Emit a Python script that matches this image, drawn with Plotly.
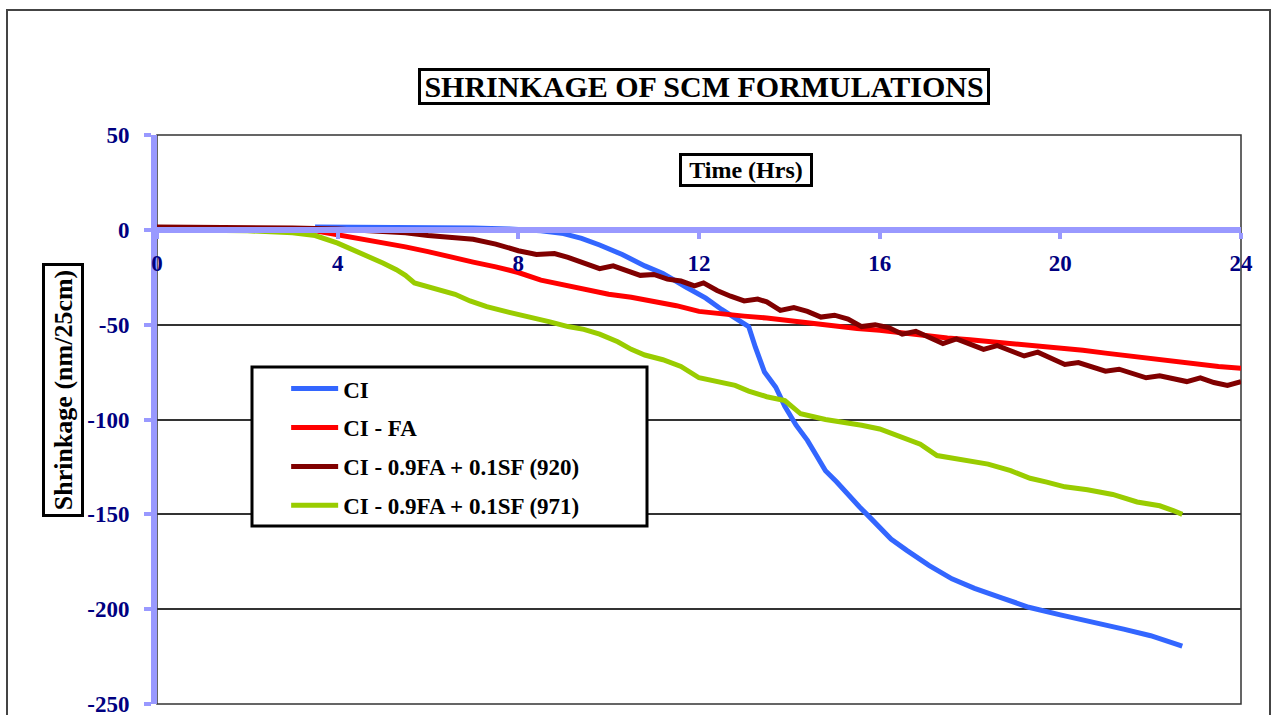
import plotly.graph_objects as go

# ---------------- data ----------------
ci_t = [3.5, 5.0, 6.0, 7.0, 7.8, 8.5, 9.0, 9.4, 9.8, 10.3, 10.8, 11.2, 11.7, 12.15, 12.5, 12.9,
        13.1, 13.25, 13.45, 13.7, 13.9, 14.15, 14.4, 14.6, 14.8, 15.05, 15.3, 15.55, 15.8, 16.0,
        16.25, 16.6, 17.1, 17.6, 18.1, 18.7, 19.3, 20.0, 20.8, 21.4, 22.0, 22.4, 22.7]
ci_v = [1.5, 1.5, 1.2, 1.0, 0.5, -0.5, -2, -4.5, -8, -13, -19, -23, -30, -36, -42, -48,
        -51, -62, -75, -83, -93, -103, -111, -119, -127, -133, -140, -146, -152, -157,
        -163, -169, -177, -184, -189, -194, -199, -203, -207, -210.5, -214, -217, -219.5]

fa_t = [0, 1, 2, 3, 3.5, 4.0, 4.5, 5.0, 5.5, 6.0, 6.5, 7.0, 7.5, 8.0, 8.5, 9.0, 9.5, 10.0,
        10.5, 11.0, 11.5, 12.0, 12.5, 13.0, 13.5, 14.0, 14.5, 15.0, 15.5, 16.0, 16.5, 17.0,
        17.5, 18.0, 18.5, 19.0, 19.5, 20.0, 20.5, 21.0, 21.5, 22.0, 22.5, 23.0, 23.5, 24.0]
fa_v = [0.5, 0.5, 0.3, 0, -0.5, -2.5, -5, -7, -9, -11.5, -14.5, -17, -19.5, -22.5, -26.5, -29,
        -31, -34, -35.5, -37.5, -40, -43, -44.5, -45.5, -46.5, -48, -49, -50.5, -52, -53, -54.5,
        -56, -57, -58, -59, -60, -61.5, -62.5, -63.5, -65, -66.5, -68, -69.5, -71, -72, -73]

sf920_t = [0, 1, 2, 3, 4, 5, 5.5, 6, 6.5, 7, 7.5, 8.0, 8.4, 8.8, 9.1, 9.5, 9.8, 10.1, 10.4,
           10.7, 11.0, 11.3, 11.6, 11.9, 12.1, 12.4, 12.7, 13.0, 13.3, 13.5, 13.8, 14.1, 14.4,
           14.7, 15.0, 15.3, 15.6, 15.9, 16.2, 16.5, 16.8, 17.1, 17.4, 17.7, 18.0, 18.3, 18.6,
           18.9, 19.2, 19.5, 19.8, 20.1, 20.4, 20.7, 21.0, 21.3, 21.6, 21.9, 22.2, 22.5, 22.8,
           23.1, 23.4, 23.7, 24.0]
sf920_v = [1.5, 1.5, 1.2, 1, 0.5, -0.5, -1.5, -3, -4, -5, -7.5, -11, -13, -12.5, -14.5, -18,
           -20.5, -19, -21.5, -24, -23.5, -26, -27, -29.5, -28, -32, -35, -37.5, -36.5, -38,
           -42.5, -41, -43, -46, -45, -47, -51, -50, -51.5, -55, -53.5, -57, -60, -57.5, -60.5,
           -63, -61, -64, -66.5, -64.5, -67.5, -71, -70, -72.5, -74.5, -73.5, -75.5, -78, -77,
           -78.5, -80, -78, -80.5, -82, -80]

sf971_t = [0, 1, 2, 3, 3.5, 4.0, 4.3, 4.65, 5.0, 5.3, 5.5, 5.7, 6.0, 6.33, 6.6, 6.93, 7.3, 7.8,
           8.3, 8.7, 9.1, 9.45, 9.8, 10.2, 10.5, 10.8, 11.2, 11.6, 12.0, 12.4, 12.8, 13.1, 13.5,
           13.9, 14.25, 14.8, 15.3, 15.6, 16.0, 16.47, 16.9, 17.27, 17.8, 18.4, 18.9, 19.33,
           19.7, 20.1, 20.6, 21.16, 21.7, 22.2, 22.5, 22.7]
sf971_v = [0, 0, -0.5, -1.5, -3, -7, -10, -14, -17.5, -21, -24, -28, -30, -32, -34, -37.5, -40.5,
           -43.5, -46, -48.5, -51, -52.5, -55, -59, -63, -66, -68.5, -72, -78, -80, -82, -85,
           -88, -90, -97, -100, -101.5, -103, -105, -109, -113, -119, -121, -123.5, -127, -131,
           -133, -135.5, -137, -139.5, -143.5, -145.5, -148, -150]

series_names = ["CI", "CI - FA", "CI - 0.9FA + 0.1SF (920)", "CI - 0.9FA + 0.1SF (971)"]
series_colors = ["#3366FF", "#FF0000", "#800000", "#99CC00"]

x_ticks = [0, 4, 8, 12, 16, 20, 24]
y_ticks = [50, 0, -50, -100, -150, -200, -250]
y_ticktext = ["50", "0", "-50", "-100", "-150", "-200", "-250"]

title_text = "SHRINKAGE OF SCM FORMULATIONS"
xaxis_title = "Time (Hrs)"
yaxis_title = "Shrinkage (nm/25cm)"

# ---------------- figure ----------------
SERIF = "Liberation Serif"
NAVY = "#000080"
AXBLUE = "#9999FF"

fig = go.Figure()
all_series = [(ci_t, ci_v), (fa_t, fa_v), (sf920_t, sf920_v), (sf971_t, sf971_v)]
for (t, v), name, col in zip(all_series, series_names, series_colors):
    fig.add_trace(go.Scatter(
        x=t, y=v, mode="lines", name="<b>" + name + "</b>", legendgroup=name,
        line=dict(color=col, width=5),
    ))

y_lo, y_hi = -250, 50
x_axis_pos = (0 - y_lo) / (y_hi - y_lo)

fig.update_layout(
    width=1272, height=715,
    margin=dict(l=157, r=31, t=135, b=11, autoexpand=False),
    paper_bgcolor="white", plot_bgcolor="white",
    font=dict(family=SERIF, color="black"),
    showlegend=True,
    legend=dict(
        x=0.097, y=0.592, xanchor="left", yanchor="top",
        bgcolor="rgba(0,0,0,0)", borderwidth=0,
        font=dict(family=SERIF, size=23, color="black"),
        tracegroupgap=6, itemwidth=47, indentation=24,
    ),
    xaxis=dict(
        range=[0, 24], anchor="free", position=x_axis_pos,
        tickvals=x_ticks, ticktext=[str(v) for v in x_ticks],
        showline=True, linecolor=AXBLUE, linewidth=6,
        ticks="outside", ticklen=6, tickwidth=4, tickcolor=AXBLUE,
        ticklabelstandoff=5, ticklabeloverflow="allow",
        tickfont=dict(family=SERIF, size=23, color=NAVY, weight="bold"),
        showgrid=False, zeroline=False,
    ),
    yaxis=dict(
        range=[y_lo, y_hi],
        tickvals=y_ticks, ticktext=y_ticktext,
        showline=True, linecolor=AXBLUE, linewidth=6,
        ticks="outside", ticklen=7, tickwidth=4, tickcolor=AXBLUE,
        ticklabelstandoff=10, ticklabeloverflow="allow",
        tickfont=dict(family=SERIF, size=23, color=NAVY, weight="bold"),
        showgrid=True, gridcolor="#333333", gridwidth=1.5, zeroline=False,
    ),
)

def px_x(px):
    return (px - 157) / 1084.0

def px_y(py):
    return (704 - py) / 569.0

shapes = [
    # outer chart border
    dict(type="rect", xref="paper", yref="paper",
         x0=px_x(7), x1=px_x(1270), y0=px_y(740), y1=px_y(10),
         line=dict(color="#444444", width=2), layer="below"),
    # plot area frame
    dict(type="rect", xref="paper", yref="paper", x0=0, x1=1, y0=0, y1=1,
         line=dict(color="#333333", width=1.5), layer="below"),
    # legend box
    dict(type="rect", xref="paper", yref="paper",
         x0=px_x(252), x1=px_x(647), y0=px_y(526), y1=px_y(367),
         line=dict(color="black", width=3), fillcolor="white", layer="above"),
]
fig.update_layout(shapes=shapes)

fig.add_annotation(
    x=px_x(704), y=px_y(87), xref="paper", yref="paper", showarrow=False,
    xanchor="center", yanchor="middle",
    text="<b>" + title_text + "</b>", width=566, height=31,
    font=dict(family=SERIF, size=30, color="black"),
    bordercolor="black", borderwidth=3, borderpad=0, bgcolor="white",
)
fig.add_annotation(
    x=px_x(746), y=px_y(170), xref="paper", yref="paper", showarrow=False,
    xanchor="center", yanchor="middle",
    text="<b>" + xaxis_title + "</b>", width=126, height=26,
    font=dict(family=SERIF, size=24, color="black"),
    bordercolor="black", borderwidth=3, borderpad=1, bgcolor="white",
)
fig.add_annotation(
    x=px_x(63), y=px_y(390), xref="paper", yref="paper", showarrow=False,
    xanchor="center", yanchor="middle",
    text="<b>" + yaxis_title + "</b>", textangle=-90, width=246, height=34,
    font=dict(family=SERIF, size=26, color="black"),
    bordercolor="black", borderwidth=3, borderpad=1, bgcolor="white",
)

fig.write_html("out.html")
